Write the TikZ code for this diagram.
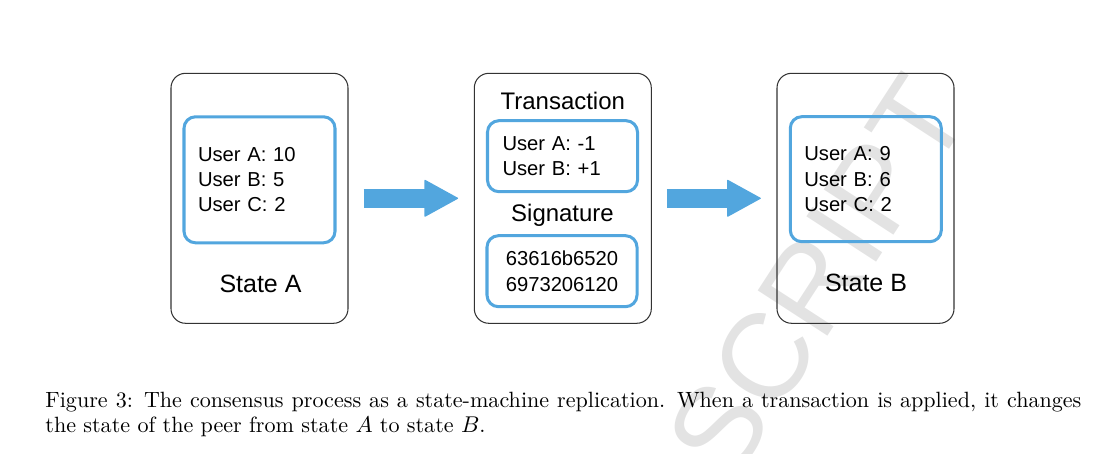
\documentclass[tikz,border=0pt]{standalone}
\usepackage{fontspec}
\newfontfamily\diagfont{Liberation Sans}
\usetikzlibrary{arrows.meta,positioning}
\definecolor{stateblue}{RGB}{82,166,222}
\newcommand{\pxu}{0.48pt}

\begin{document}
\begin{tikzpicture}[x=\pxu, y=-\pxu,
  statebox/.style={draw=black!80, line width=0.5pt, rounded corners=7pt, minimum width=177*\pxu, minimum height=250*\pxu},
  userbox/.style={draw=stateblue, line width=1.45pt, rounded corners=5.5pt, inner xsep=14*\pxu, inner ysep=0pt, font=\diagfont\fontsize{9.7}{12.1}\selectfont},
  title/.style={anchor=base, inner sep=0pt, font=\diagfont\fontsize{11.5}{13}\selectfont},
  statename/.style={anchor=base, inner sep=0pt, font=\diagfont\fontsize{12}{14}\selectfont},
  flow/.style={draw=stateblue, line width=9.2pt, -{Triangle[length=16.5pt, width=18pt, line width=0.6pt, round]}},
  watermark/.style={rotate=57, text=black!11, inner sep=0pt, font=\diagfont\fontsize{58}{58}\selectfont},
  caption/.style={anchor=north west, inner sep=0pt, text width=1036*\pxu, align=justify, font=\fontsize{10.6}{12}\selectfont}]
\useasboundingbox (0,0) rectangle (1111,454);
\begin{scope}
\clip (0,0) rectangle (1111,454);
\node[watermark] (wm) at (817,277) {SCRIPT};
\end{scope}
\node[statebox] (sa) at (259.5,198.3) {};
\node[statebox] (msg) at (562.8,198.3) {};
\node[statebox] (sb) at (865.5,198.3) {};
\node[userbox, text width=123*\pxu, minimum height=126*\pxu, align=left] (balA) at (259.5,179.8) {User A: 10\\User B: 5\\User C: 2};
\node[userbox, text width=123*\pxu, minimum height=125*\pxu, align=left] (balB) at (865.8,179.2) {User A: 9\\User B: 6\\User C: 2};
\node[userbox, text width=120*\pxu, inner xsep=15*\pxu, minimum height=71*\pxu, align=left] (txn) at (562.5,156.2) {User A: -1\\User B: +1};
\node[userbox, text width=120*\pxu, inner xsep=15*\pxu, minimum height=71*\pxu, align=center] (sig) at (562,271.2) {63616b6520\\6973206120};
\node[title] (txnlabel) at (562.8,110) {Transaction};
\node[title] (siglabel) at (562.5,221.7) {Signature};
\node[statename] (salabel) at (260.5,292.7) {State A};
\node[statename] (sblabel) at (866,291.7) {State B};
\draw[flow] ([xshift=15*\pxu]sa.east) -- ([xshift=-15.7*\pxu]msg.west);
\draw[flow] ([xshift=15*\pxu]msg.east) -- ([xshift=-15.7*\pxu]sb.west);
\node[caption] (cap) at (45,392.2) {Figure 3: The consensus process as a state-machine replication. When a transaction is applied, it changes\linebreak the state of the peer from state $A$ to state $B$.};
\end{tikzpicture}
\end{document}
